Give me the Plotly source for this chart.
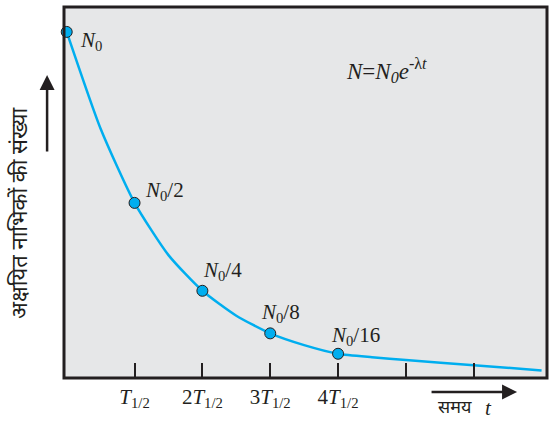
import plotly.graph_objects as go

# decay curve (t in half-lives, N as fraction of N0)
curve_t = [0, 0.5, 1, 1.5, 2, 2.5, 3, 3.5, 4, 4.5, 5, 6, 7]
curve_n = [1.0, 0.72, 0.506, 0.355, 0.252, 0.18, 0.129, 0.095, 0.07, 0.06, 0.052, 0.037, 0.022]

# marked points
point_t = [0, 1, 2, 3, 4]
point_n = [1.0, 0.506, 0.252, 0.129, 0.07]
point_labels = ["<i>N</i><sub>0</sub>", "<i>N</i><sub>0</sub>/2", "<i>N</i><sub>0</sub>/4",
                "<i>N</i><sub>0</sub>/8", "<i>N</i><sub>0</sub>/16"]

tick_vals = [1, 2, 3, 4, 5, 6]
tick_text = ["<i>T</i><sub>1/2</sub>", "2<i>T</i><sub>1/2</sub>", "3<i>T</i><sub>1/2</sub>",
             "4<i>T</i><sub>1/2</sub>", "", ""]

BLUE = "#00aeef"
DARK = "#231f20"
SERIF = "Liberation Serif, Times New Roman, serif"
DEVA = "Noto Sans Devanagari, Noto Sans, sans-serif"

fig = go.Figure()
fig.add_trace(go.Scatter(x=curve_t, y=curve_n, mode="lines",
                         line=dict(color=BLUE, width=2.5, shape="spline", smoothing=0.6),
                         hoverinfo="skip", cliponaxis=False))
fig.add_trace(go.Scatter(x=point_t, y=point_n, mode="markers",
                         marker=dict(color=BLUE, size=11, line=dict(color=DARK, width=1)),
                         cliponaxis=False))

# label offsets in data units (right/up of each point)
label_dx = [0.16, 0.12, -0.02, -0.17, -0.14]
label_dy = [-0.025, 0.035, 0.058, 0.06, 0.05]
for t, n, txt, dx, dy in zip(point_t, point_n, point_labels, label_dx, label_dy):
    fig.add_annotation(x=t + dx, y=n + dy, text=txt, showarrow=False,
                       xanchor="left", yanchor="middle",
                       font=dict(family=SERIF, size=21, color=DARK))

fig.add_annotation(x=0.58, y=0.83, xref="paper", yref="paper", xanchor="left", yanchor="middle",
                   text="<i>N</i>=<i>N<sub>0</sub>e</i><sup>-λ<i>t</i></sup>", showarrow=False,
                   font=dict(family=SERIF, size=23, color=DARK))

# y axis title with arrow
fig.add_annotation(x=-0.087, y=0.445, xref="paper", yref="paper", textangle=-90,
                   xanchor="center", yanchor="middle",
                   text="अक्षयित नाभिकों की संख्या", showarrow=False,
                   font=dict(family=DEVA, size=22, color=DARK))
fig.add_annotation(x=-0.035, y=0.817, xref="paper", yref="paper", ax=0, ay=78, text="",
                   showarrow=True, arrowhead=2, arrowsize=1.2, arrowwidth=2.5, arrowcolor=DARK)

# x axis title with arrow
fig.add_annotation(x=0.938, y=-0.038, xref="paper", yref="paper", ax=-87, ay=0, text="",
                   showarrow=True, arrowhead=2, arrowsize=1.2, arrowwidth=2.5, arrowcolor=DARK)
fig.add_annotation(x=0.81, y=-0.081, xref="paper", yref="paper", text="समय", showarrow=False,
                   xanchor="center", yanchor="middle",
                   font=dict(family=DEVA, size=18, color=DARK))
fig.add_annotation(x=0.878, y=-0.081, xref="paper", yref="paper", text="<i>t</i>", showarrow=False,
                   xanchor="center", yanchor="middle",
                   font=dict(family=SERIF, size=21, color=DARK))

fig.add_shape(type="rect", xref="paper", yref="paper", x0=0, y0=0, x1=1, y1=1,
              line=dict(color=DARK, width=3), layer="above")

fig.update_xaxes(range=[-0.04, 7.08], tickvals=tick_vals, ticktext=tick_text,
                 ticks="inside", ticklen=15, tickwidth=2, tickcolor=DARK,
                 ticklabelstandoff=4, showgrid=False, zeroline=False,
                 tickfont=dict(family=SERIF, size=21, color=DARK))
fig.update_yaxes(range=[0, 1.072], showticklabels=False, showgrid=False, zeroline=False)

fig.update_layout(width=556, height=421, margin=dict(l=64, r=9, t=7, b=43),
                  plot_bgcolor="#e6e7e8", paper_bgcolor="white", showlegend=False)

fig.write_html("out.html", config={"displayModeBar": False},
               post_script="document.body.style.margin='0';")
